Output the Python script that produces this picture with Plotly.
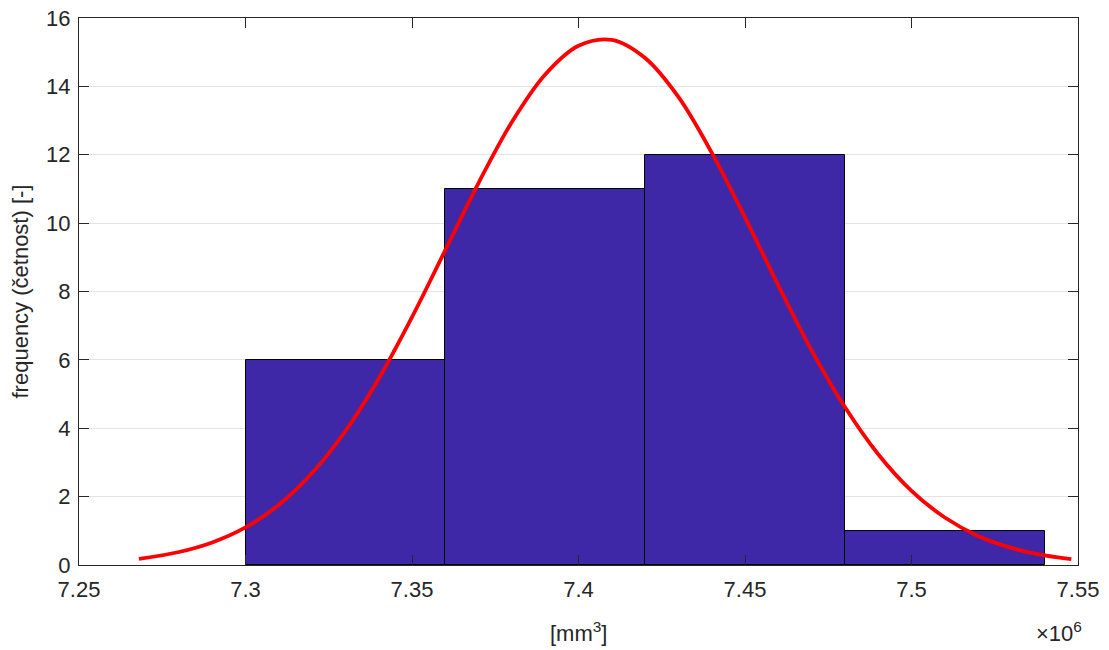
import plotly.graph_objects as go

# Histogram data (x in units of 10^6 mm^3)
bin_edges = [7.30, 7.36, 7.42, 7.48, 7.54]
counts = [6, 11, 12, 1]

# Fitted normal curve
curve_x = [7.268, 7.28, 7.29, 7.30, 7.31, 7.32, 7.33, 7.34, 7.35, 7.36, 7.37,
           7.38, 7.39, 7.40, 7.41, 7.42, 7.43, 7.44, 7.45, 7.46, 7.47, 7.48,
           7.49, 7.50, 7.51, 7.52, 7.53, 7.54, 7.548]
curve_y = [0.18, 0.38, 0.66, 1.10, 1.76, 2.69, 3.92, 5.45, 7.25, 9.21, 11.18,
           12.96, 14.35, 15.19, 15.36, 14.83, 13.69, 12.06, 10.17, 8.18, 6.28, 4.62,
           3.24, 2.17, 1.39, 0.85, 0.50, 0.28, 0.17]

x_ticks = [7.25, 7.3, 7.35, 7.4, 7.45, 7.5, 7.55]
x_tick_labels = ["7.25", "7.3", "7.35", "7.4", "7.45", "7.5", "7.55"]
y_ticks = [0, 2, 4, 6, 8, 10, 12, 14, 16]

centers = [(a + b) / 2 for a, b in zip(bin_edges[:-1], bin_edges[1:])]
widths = [b - a for a, b in zip(bin_edges[:-1], bin_edges[1:])]

FONT = "Liberation Sans, Arial, Helvetica, sans-serif"
AX = "#262626"
FS = 22

fig = go.Figure()
fig.add_trace(go.Bar(x=centers, y=counts, width=widths,
                     marker=dict(color="#3E28A7", line=dict(color="black", width=1)),
                     showlegend=False, hoverinfo="skip"))
fig.add_trace(go.Scatter(x=curve_x, y=curve_y, mode="lines", line_shape="spline",
                         line=dict(color="#FF0000", width=3.8), showlegend=False))

fig.update_layout(
    width=1109, height=650,
    margin=dict(l=79, r=31, t=18, b=85, autoexpand=False),
    paper_bgcolor="white", plot_bgcolor="white",
    font=dict(family=FONT, color=AX, size=FS),
    bargap=0,
    xaxis=dict(range=[7.25, 7.55], tickvals=x_ticks, ticktext=x_tick_labels,
               showgrid=False, zeroline=False, showline=True, linecolor=AX, linewidth=1,
               mirror="ticks", ticks="inside", ticklen=10, tickcolor=AX,
               ticklabelstandoff=5, ticklabeloverflow="allow", automargin=False,
               tickfont=dict(size=FS, color=AX)),
    yaxis=dict(range=[0, 16], tickvals=y_ticks, showgrid=True, gridcolor="#E3E3E3",
               zeroline=False, showline=True, linecolor=AX, linewidth=1,
               mirror="ticks", ticks="inside", ticklen=10, tickcolor=AX,
               ticklabelstandoff=3, ticklabeloverflow="allow", automargin=False,
               tickfont=dict(size=FS, color=AX)),
    annotations=[
        dict(text="[mm<sup>3</sup>]", x=0.5, xref="paper", xanchor="center",
             y=-0.122, yref="paper", yanchor="middle", showarrow=False,
             font=dict(size=FS, color=AX)),
        dict(text="frequency (četnost) [-]", x=0, xref="paper", xanchor="center",
             xshift=-59, y=0.5, yref="paper", yanchor="middle", textangle=-90,
             showarrow=False, font=dict(size=FS, color=AX)),
        dict(text="×10<sup>6</sup>", x=1.0, xref="paper", xanchor="right",
             y=-0.122, yref="paper", yanchor="middle", showarrow=False,
             font=dict(size=FS, color=AX), xshift=6),
    ],
)

fig.write_html("out.html", config={"displayModeBar": False},
               post_script="document.body.style.margin='0';")
